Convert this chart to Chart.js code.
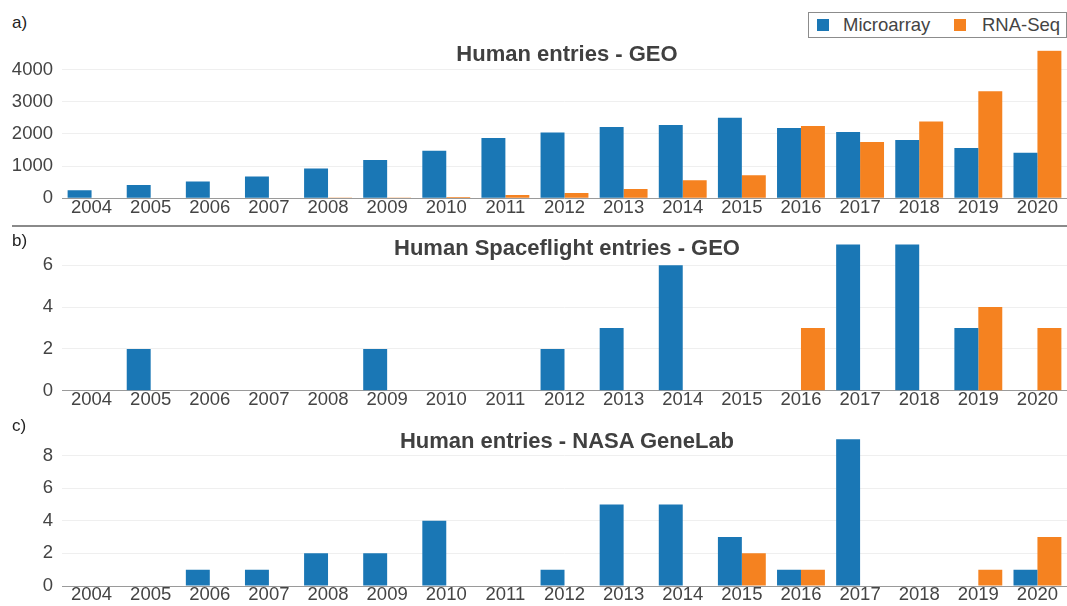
<!DOCTYPE html>
<html>
<head>
<meta charset="utf-8">
<script src="https://cdn.jsdelivr.net/npm/chart.js@4"></script>
<style>
  body { margin: 0; background: #fff; font-family: "Liberation Sans", Arial, sans-serif; }
  #page { position: relative; width: 1067px; height: 606px; overflow: hidden; }
  canvas { position: absolute; left: 0; }
  .lbl { position: absolute; left: 12px; font-size: 17px; line-height: 1; color: #222; }
  .ttl { position: absolute; left: 100px; width: 934px; text-align: center; font-size: 22px;
         font-weight: bold; line-height: 1; color: #404040; white-space: nowrap; }
  #sep { position: absolute; left: 12px; top: 225px; width: 1055px; height: 2px; background: #8a8a8a; }
  #legend { position: absolute; left: 808px; top: 12px; width: 257px; height: 24px;
            border: 1px solid #8c8c8c; background: #fff; }
  .sw { position: absolute; top: 6px; width: 12px; height: 12px; }
  .lt { position: absolute; top: 3px; font-size: 18.5px; line-height: 1; color: #444; }
</style>
</head>
<body>
<div id="page">
  <canvas id="chartA" width="1067" height="187" style="top:32px"></canvas>
  <canvas id="chartB" width="1067" height="192" style="top:222px"></canvas>
  <canvas id="chartC" width="1067" height="190" style="top:416px"></canvas>

  <div id="sep"></div>
  <div class="lbl" style="top:14px">a)</div>
  <div class="lbl" style="top:232px">b)</div>
  <div class="lbl" style="top:417px">c)</div>
  <div class="ttl" style="top:43px">Human entries - GEO</div>
  <div class="ttl" style="top:237px">Human Spaceflight entries - GEO</div>
  <div class="ttl" style="top:430px">Human entries - NASA GeneLab</div>

  <div id="legend">
    <div class="sw" style="left:8px; background:#1a77b5"></div>
    <div class="lt" style="left:34px">Microarray</div>
    <div class="sw" style="left:145px; background:#f58220"></div>
    <div class="lt" style="left:173px">RNA-Seq</div>
  </div>
</div>

<script>
var years = ['2004', '2005', '2006', '2007', '2008', '2009', '2010', '2011', '2012',
             '2013', '2014', '2015', '2016', '2017', '2018', '2019', '2020'];

// a) Human entries - GEO
var geoMicroarray = [250, 417, 521, 677, 927, 1188, 1479, 1875, 2042, 2219, 2281, 2500, 2188, 2063, 1813, 1563, 1417];
var geoRnaSeq     = [0, 0, 0, 0, 10, 12, 42, 104, 167, 292, 563, 719, 2250, 1750, 2385, 3323, 4583];
var geoTicks      = [0, 1000, 2000, 3000, 4000];

// b) Human Spaceflight entries - GEO
var spaceMicroarray = [0, 2, 0, 0, 0, 2, 0, 0, 2, 3, 6, 0, 0, 7, 7, 3, 0];
var spaceRnaSeq     = [0, 0, 0, 0, 0, 0, 0, 0, 0, 0, 0, 0, 3, 0, 0, 4, 3];
var spaceTicks      = [0, 2, 4, 6];

// c) Human entries - NASA GeneLab
var genelabMicroarray = [0, 0, 1, 1, 2, 2, 4, 0, 1, 5, 5, 3, 1, 9, 0, 0, 1];
var genelabRnaSeq     = [0, 0, 0, 0, 0, 0, 0, 0, 0, 0, 0, 2, 1, 0, 0, 1, 3];
var genelabTicks      = [0, 2, 4, 6, 8];

var blue = '#1a77b5';
var orange = '#f58220';
var fontFamily = '"Liberation Sans", Arial, sans-serif';

function makeChart(id, micro, rna, tickValues, yMax, padTop, padBottom) {
    var ctx = document.getElementById(id).getContext('2d');
    return new Chart(ctx, {
        type: 'bar',
        data: {
            labels: years,
            datasets: [
                { label: 'Microarray', data: micro, backgroundColor: blue },
                { label: 'RNA-Seq', data: rna, backgroundColor: orange }
            ]
        },
        options: {
            responsive: false,
            animation: false,
            categoryPercentage: 0.81,
            barPercentage: 1,
            layout: { padding: { top: padTop, bottom: padBottom, left: 0, right: 0 } },
            plugins: { legend: { display: false }, tooltip: { enabled: false }, title: { display: false } },
            scales: {
                x: {
                    grid: { display: false, drawTicks: false },
                    border: { display: false },
                    ticks: {
                        color: '#444', padding: 0, maxRotation: 0, autoSkip: false,
                        font: { family: fontFamily, size: 18.5, lineHeight: 1 }
                    }
                },
                y: {
                    min: 0,
                    max: yMax,
                    border: { display: false },
                    grid: {
                        drawTicks: false,
                        color: function(c) {
                            return c.tick && c.tick.value === 0 ? '#9a9a9a' : '#efefef';
                        }
                    },
                    ticks: {
                        color: '#444', padding: 9, autoSkip: false,
                        font: { family: fontFamily, size: 18.5, lineHeight: 1 },
                        callback: function(v) { return String(v); }
                    },
                    afterBuildTicks: function(axis) {
                        axis.ticks = tickValues.map(function(v) { return { value: v }; });
                    },
                    afterFit: function(axis) { axis.width = 62; }
                }
            }
        }
    });
}

makeChart('chartA', geoMicroarray, geoRnaSeq, geoTicks, 4600, 10, 2.2);
makeChart('chartB', spaceMicroarray, spaceRnaSeq, spaceTicks, 7.2, 9.45, 4.8);
makeChart('chartC', genelabMicroarray, genelabRnaSeq, genelabTicks, 9.3, 10.45, 1.5);
</script>
</body>
</html>
